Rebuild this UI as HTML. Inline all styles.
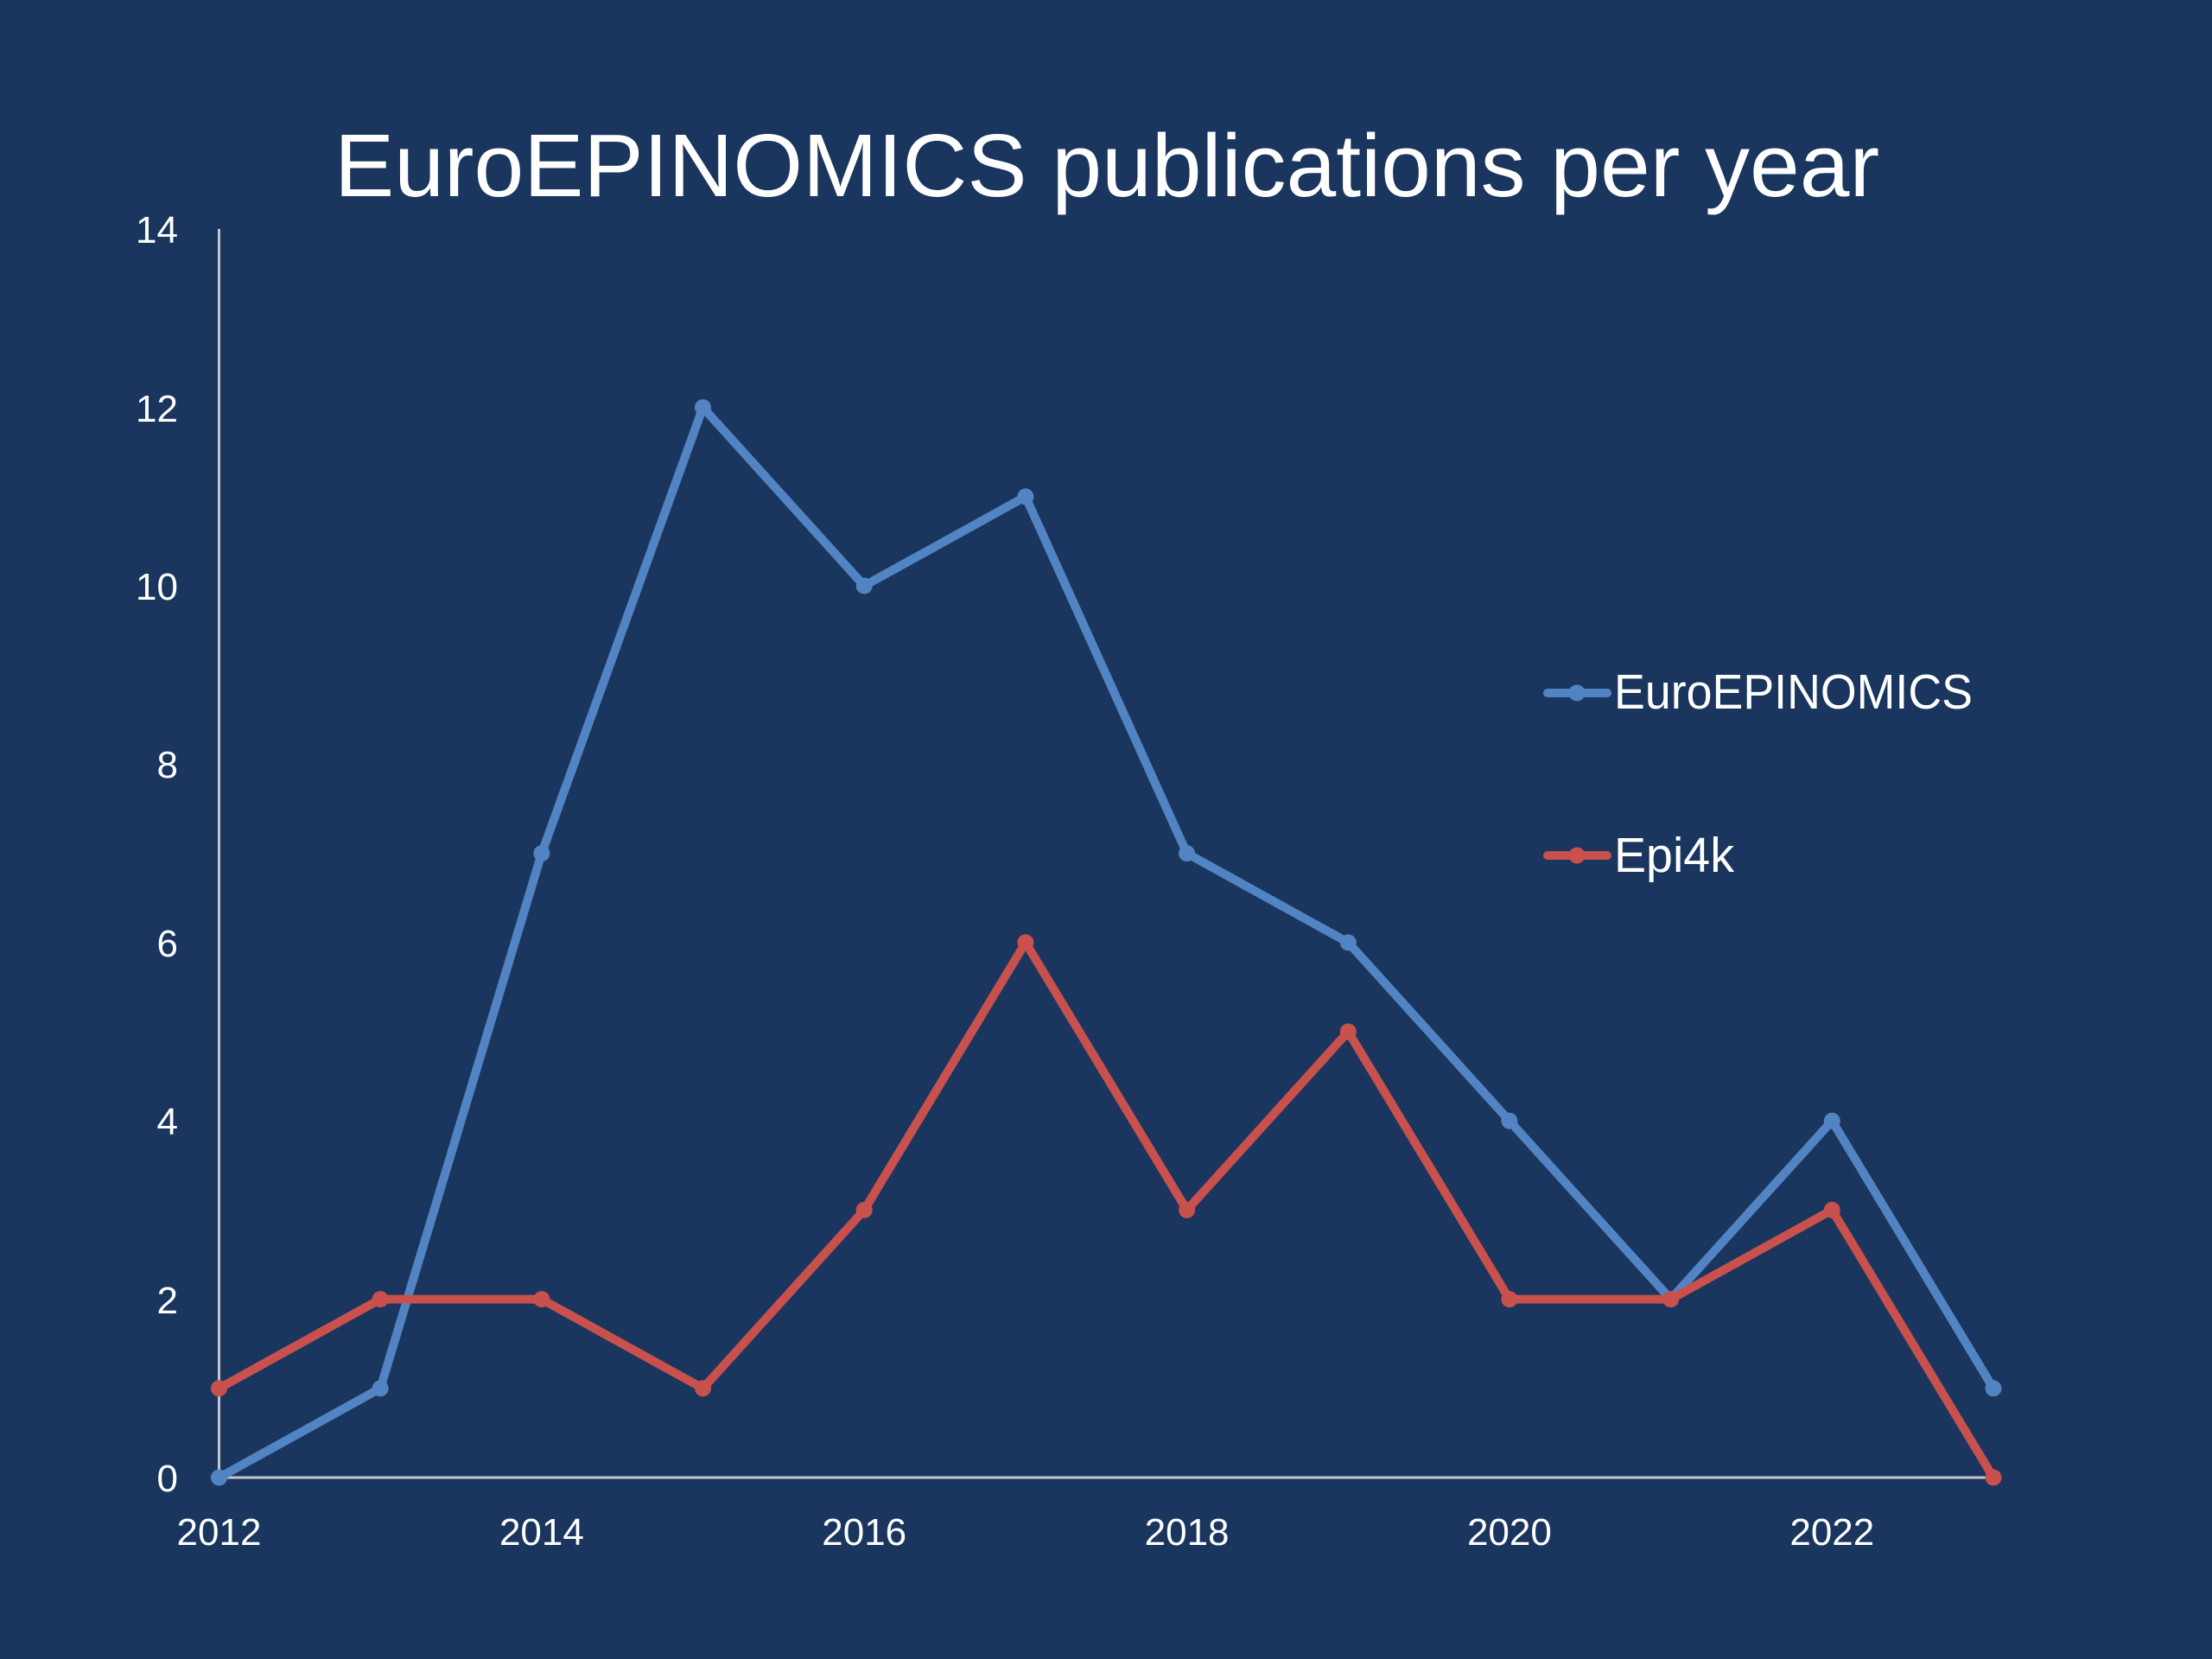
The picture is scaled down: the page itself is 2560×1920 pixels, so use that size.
<!DOCTYPE html>
<html>
<head>
<meta charset="utf-8">
<style>
html,body{margin:0;padding:0;background:#1a365e;}
svg{display:block;}
text{font-family:"Liberation Sans",sans-serif;fill:#ffffff;}
</style>
</head>
<body>
<svg width="2560" height="1920" viewBox="0 0 2560 1920" xmlns="http://www.w3.org/2000/svg">
<rect width="2560" height="1920" fill="#1a365e"/>
<text x="387" y="227" font-size="103" textLength="1788" lengthAdjust="spacingAndGlyphs">EuroEPINOMICS publications per year</text>

<g stroke="#c3c7cf" stroke-width="3" fill="none">
<line x1="253.5" y1="265" x2="253.5" y2="1710"/>
<line x1="253.5" y1="1710" x2="2307" y2="1710"/>
</g>

<g font-size="44" text-anchor="end">
<text x="206" y="1726">0</text>
<text x="206" y="1520">2</text>
<text x="206" y="1313">4</text>
<text x="206" y="1107">6</text>
<text x="206" y="900">8</text>
<text x="206" y="694">10</text>
<text x="206" y="488">12</text>
<text x="206" y="281">14</text>
</g>
<g font-size="44" text-anchor="middle">
<text x="253.5" y="1788">2012</text>
<text x="626.9" y="1788">2014</text>
<text x="1000.2" y="1788">2016</text>
<text x="1373.6" y="1788">2018</text>
<text x="1746.9" y="1788">2020</text>
<text x="2120.3" y="1788">2022</text>
</g>

<g stroke="#5284c4" stroke-width="10" fill="none" stroke-linejoin="round" stroke-linecap="round">
<polyline points="253.5,1710 440.2,1606.8 626.9,987.6 813.5,471.6 1000.2,678 1186.9,574.8 1373.6,987.6 1560.3,1090.8 1746.9,1297.2 1933.6,1503.6 2120.3,1297.2 2307,1606.8"/>
</g>
<g fill="#5284c4">
<circle cx="253.5" cy="1710" r="9.5"/>
<circle cx="440.2" cy="1606.8" r="9.5"/>
<circle cx="626.9" cy="987.6" r="9.5"/>
<circle cx="813.5" cy="471.6" r="9.5"/>
<circle cx="1000.2" cy="678" r="9.5"/>
<circle cx="1186.9" cy="574.8" r="9.5"/>
<circle cx="1373.6" cy="987.6" r="9.5"/>
<circle cx="1560.3" cy="1090.8" r="9.5"/>
<circle cx="1746.9" cy="1297.2" r="9.5"/>
<circle cx="1933.6" cy="1503.6" r="9.5"/>
<circle cx="2120.3" cy="1297.2" r="9.5"/>
<circle cx="2307" cy="1606.8" r="9.5"/>
</g>

<g stroke="#c8504d" stroke-width="10" fill="none" stroke-linejoin="round" stroke-linecap="round">
<polyline points="253.5,1606.8 440.2,1503.6 626.9,1503.6 813.5,1606.8 1000.2,1400.4 1186.9,1090.8 1373.6,1400.4 1560.3,1194 1746.9,1503.6 1933.6,1503.6 2120.3,1400.4 2307,1710"/>
</g>
<g fill="#c8504d">
<circle cx="253.5" cy="1606.8" r="9.5"/>
<circle cx="440.2" cy="1503.6" r="9.5"/>
<circle cx="626.9" cy="1503.6" r="9.5"/>
<circle cx="813.5" cy="1606.8" r="9.5"/>
<circle cx="1000.2" cy="1400.4" r="9.5"/>
<circle cx="1186.9" cy="1090.8" r="9.5"/>
<circle cx="1373.6" cy="1400.4" r="9.5"/>
<circle cx="1560.3" cy="1194" r="9.5"/>
<circle cx="1746.9" cy="1503.6" r="9.5"/>
<circle cx="1933.6" cy="1503.6" r="9.5"/>
<circle cx="2120.3" cy="1400.4" r="9.5"/>
<circle cx="2307" cy="1710" r="9.5"/>
</g>

<line x1="1791" y1="802" x2="1860" y2="802" stroke="#5284c4" stroke-width="10" stroke-linecap="round"/>
<circle cx="1825" cy="802" r="9.5" fill="#5284c4"/>
<text x="1868" y="820" font-size="57" textLength="415" lengthAdjust="spacingAndGlyphs">EuroEPINOMICS</text>

<line x1="1791" y1="990" x2="1860" y2="990" stroke="#c8504d" stroke-width="10" stroke-linecap="round"/>
<circle cx="1825" cy="990" r="9.5" fill="#c8504d"/>
<text x="1868" y="1009" font-size="57" textLength="139" lengthAdjust="spacingAndGlyphs">Epi4k</text>
</svg>
</body>
</html>
